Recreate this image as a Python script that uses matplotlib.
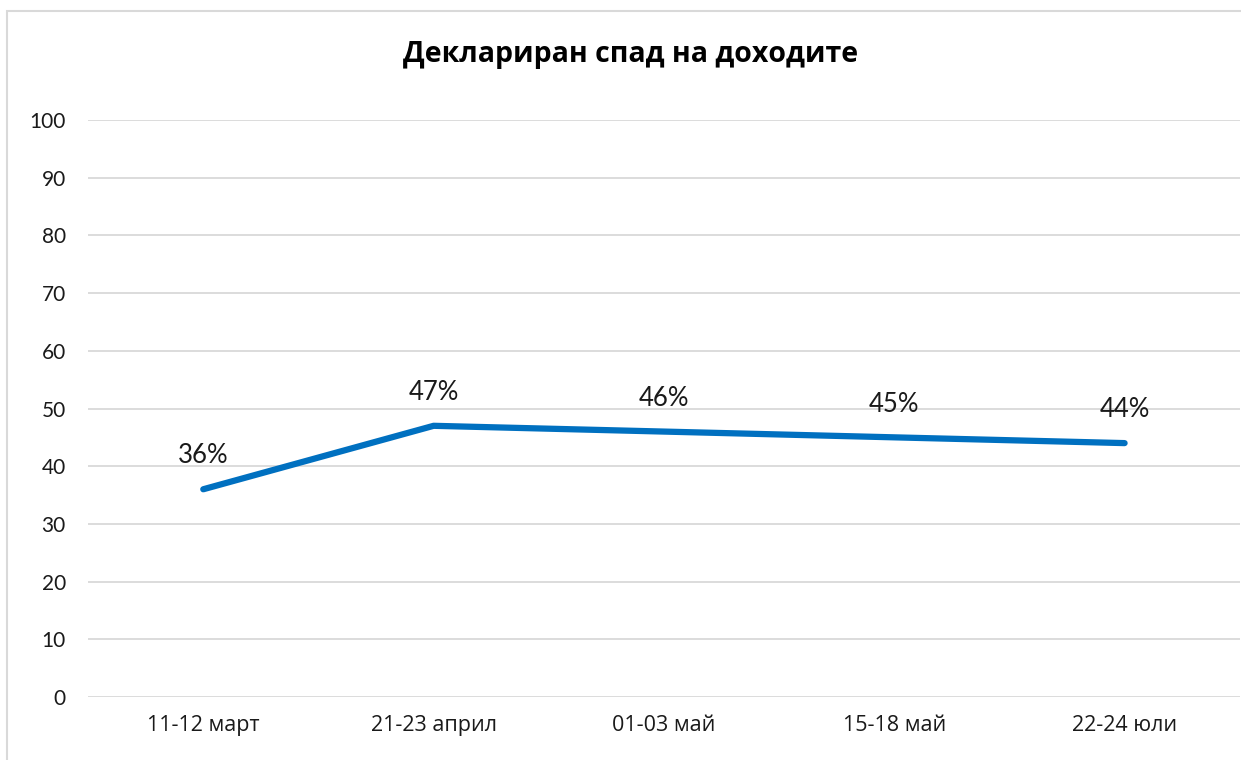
import matplotlib.pyplot as plt
from matplotlib.patches import Rectangle

# данни
periods = ["11-12 март", "21-23 април", "01-03 май", "15-18 май", "22-24 юли"]
income_drop = [36, 47, 46, 45, 44]
y_ticks = list(range(0, 101, 10))

line_color = "#0070C0"
grid_color = "#D9D9D9"

fig = plt.figure(figsize=(12.41, 7.6), dpi=100)
ax = fig.add_axes([0.071, 0.083, 0.928, 0.759])

x = list(range(len(periods)))
ax.plot(x, income_drop, color=line_color, linewidth=4.5, solid_capstyle="round", zorder=3)

for xi, val in zip(x, income_drop):
    ax.annotate(f"{val}%", (xi, val), xytext=(0, 15), textcoords="offset points",
                ha="center", va="bottom", fontsize=18.5, family="Lato", color="#1a1a1a")

ax.set_xlim(-0.5, len(periods) - 0.5)
ax.set_ylim(0, 100)
ax.set_yticks(y_ticks)
ax.set_xticks(x)
ax.set_xticklabels(periods, fontsize=15.5, family="Open Sans")
for lbl in ax.get_yticklabels():
    lbl.set_fontsize(15)
    lbl.set_family("Lato")
ax.tick_params(axis="both", length=0, colors="#1a1a1a")
ax.tick_params(axis="y", pad=16)
ax.tick_params(axis="x", pad=13)
ax.grid(axis="y", color=grid_color, linewidth=1.3)
ax.set_axisbelow(True)
for s in ax.spines.values():
    s.set_visible(False)

fig.text(0.508, 0.928, "Деклариран спад на доходите", ha="center", va="center",
         fontsize=20.5, fontweight="bold", family="Open Sans")

# рамка около графиката
fig.patches.append(Rectangle((0.006, -0.1), 1.2, 1.086, transform=fig.transFigure,
                             fill=False, edgecolor="#D9D9D9", linewidth=1.5))

fig.savefig("out.png", dpi=100)
